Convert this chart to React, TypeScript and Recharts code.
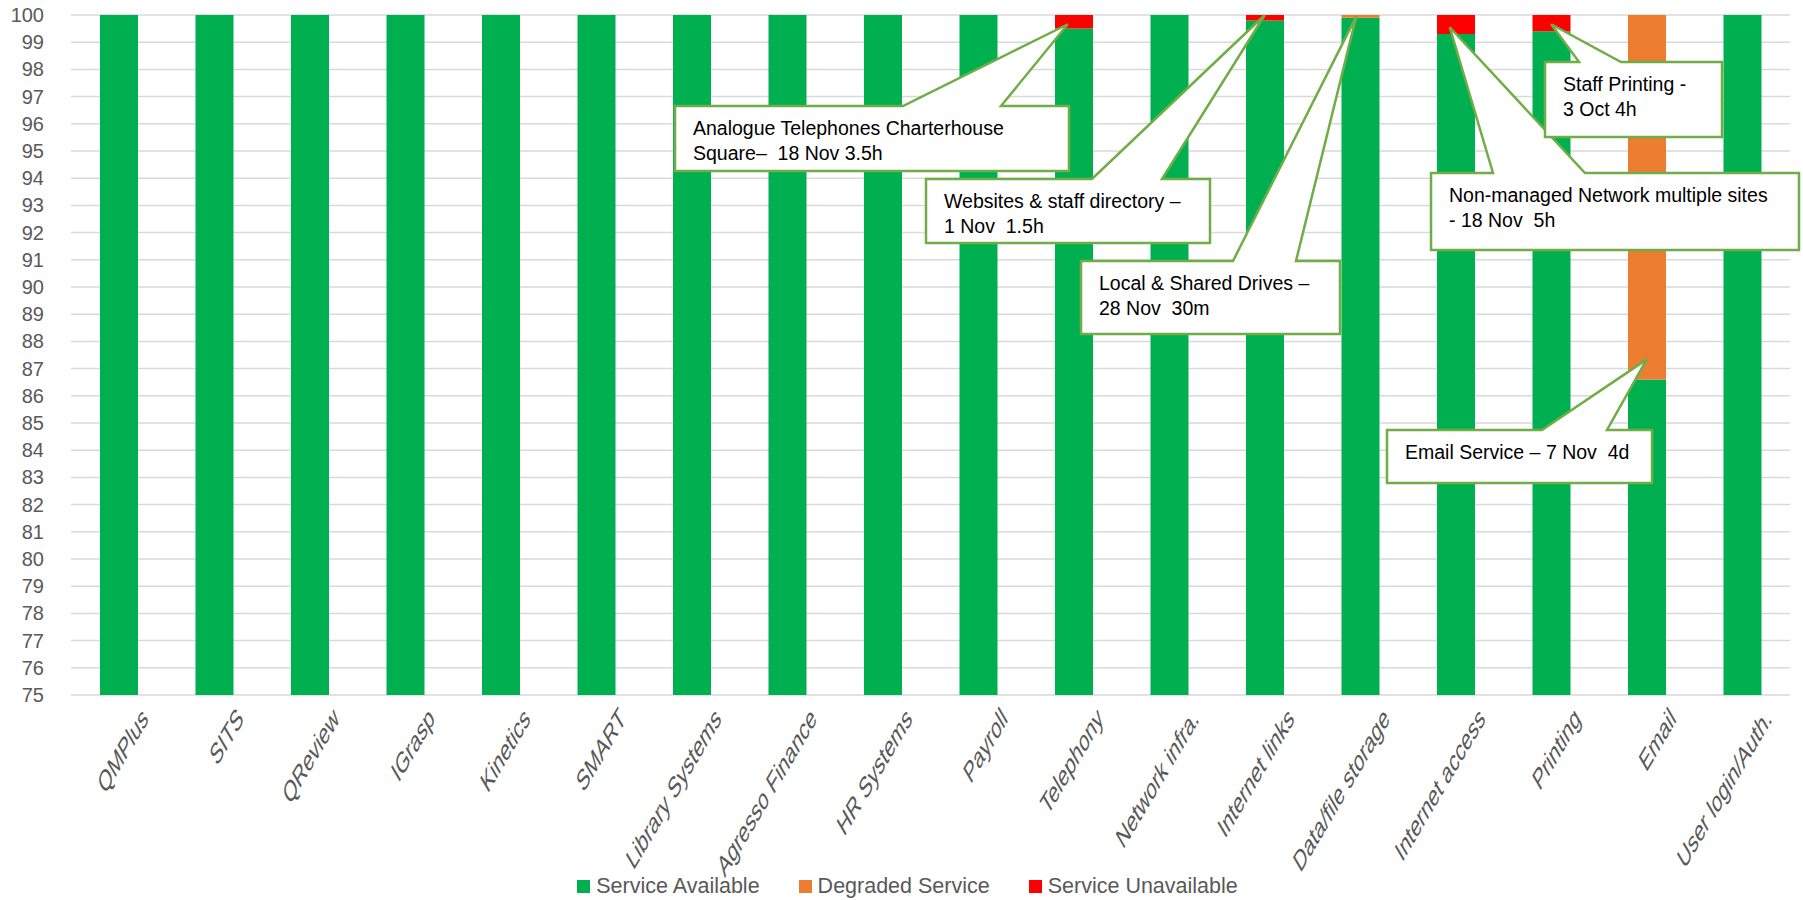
import React from 'react';
import {
  BarChart,
  Bar,
  XAxis,
  YAxis,
  CartesianGrid,
  Legend,
  ReferenceDot,
} from 'recharts';

const categories = [
  'QMPlus', 'SITS', 'QReview', 'IGrasp', 'Kinetics', 'SMART', 'Library Systems',
  'Agresso Finance', 'HR Systems', 'Payroll', 'Telephony', 'Network infra.',
  'Internet links', 'Data/file storage', 'Internet access', 'Printing', 'Email',
  'User login/Auth.',
];
const available = [100, 100, 100, 100, 100, 100, 100, 100, 100, 100, 99.5, 100, 99.8, 99.9, 99.3, 99.4, 86.6, 100];
const degraded = [0, 0, 0, 0, 0, 0, 0, 0, 0, 0, 0, 0, 0, 0.1, 0, 0, 13.4, 0];
const unavailable = [0, 0, 0, 0, 0, 0, 0, 0, 0, 0, 0.5, 0, 0.2, 0, 0.7, 0.6, 0, 0];
const yTicks = [75, 76, 77, 78, 79, 80, 81, 82, 83, 84, 85, 86, 87, 88, 89, 90, 91, 92, 93, 94, 95, 96, 97, 98, 99, 100];

// callout annotations: which bar they point at, the value of the tip, and the text
const calloutCategories = ['Telephony', 'Internet links', 'Data/file storage', 'Internet access', 'Printing', 'Email'];
const calloutTips = [99.66, 100, 99.95, 99.55, 99.66, 87.34];
const calloutTexts = [
  ['Analogue Telephones Charterhouse', 'Square–  18 Nov 3.5h'],
  ['Websites & staff directory –', '1 Nov  1.5h'],
  ['Local & Shared Drives –', '28 Nov  30m'],
  ['Non-managed Network multiple sites', '- 18 Nov  5h'],
  ['Staff Printing -', '3 Oct 4h'],
  ['Email Service – 7 Nov  4d'],
];
// box placement in pixels (x, y, w, h, pointer base from/to on top edge, tip x nudge)
const calloutBoxes = [
  { x: 675, y: 106, w: 394, h: 65, b0: 903, b1: 1001, dx: -6 },
  { x: 926, y: 179, w: 284, h: 64, b0: 1092, b1: 1162, dx: 0 },
  { x: 1081, y: 261, w: 259, h: 73, b0: 1233, b1: 1296, dx: -4 },
  { x: 1431, y: 173, w: 368, h: 77, b0: 1493, b1: 1585, dx: -6 },
  { x: 1545, y: 62, w: 177, h: 75, b0: 1579, b1: 1621, dx: 0 },
  { x: 1387, y: 430, w: 265, h: 53, b0: 1542, b1: 1607, dx: 0 },
];

const data = categories.map((name, i) => ({
  name,
  available: available[i],
  degraded: degraded[i],
  unavailable: unavailable[i],
}));

const GREEN = '#00B050';
const ORANGE = '#ED7D31';
const RED = '#FF0000';
const FONT = '"Liberation Sans", Arial, sans-serif';

const legendItems = [
  { label: 'Service Available', color: GREEN },
  { label: 'Degraded Service', color: ORANGE },
  { label: 'Service Unavailable', color: RED },
];

const YTick = ({ x, y, payload }: any) => (
  <text x={x - 19} y={y} dy="0.35em" textAnchor="end" fill="#595959" fontSize={20} fontFamily={FONT}>
    {payload.value}
  </text>
);

// labels are slanted steeper than 45deg in the original, so rotate then stretch vertically
const XTick = ({ x, y, payload }: any) => (
  <g transform={`translate(${x + 26},${y + 10}) scale(1,1.7) rotate(-45)`}>
    <text textAnchor="end" dy="0.35em" fill="#595959" fontSize={17.5} fontFamily={FONT}>
      {payload.value}
    </text>
  </g>
);

const makeCallout = (i: number) => (props: any) => {
  const { cx, cy } = props;
  const b = calloutBoxes[i];
  const tx = cx + b.dx;
  const path = `M${b.x},${b.y} L${b.b0},${b.y} L${tx},${cy} L${b.b1},${b.y} L${b.x + b.w},${b.y} L${b.x + b.w},${b.y + b.h} L${b.x},${b.y + b.h} Z`;
  return (
    <g>
      <path d={path} fill="#fff" stroke="#70AD47" strokeWidth={2.5} />
      {calloutTexts[i].map((line, k) => (
        <text
          key={k}
          x={b.x + 18}
          y={b.y + 29 + k * 25}
          fontSize={19.5}
          fontFamily={FONT}
          fill="#000"
          style={{ whiteSpace: 'pre' }}
        >
          {line}
        </text>
      ))}
    </g>
  );
};

const renderLegend = () => (
  <div
    style={{
      display: 'flex',
      justifyContent: 'center',
      alignItems: 'center',
      height: 28,
      paddingLeft: 64,
      fontFamily: FONT,
      fontSize: 21.5,
      color: '#595959',
    }}
  >
    {legendItems.map((it) => (
      <div key={it.label} style={{ display: 'flex', alignItems: 'center', marginRight: 39 }}>
        <span style={{ width: 13, height: 13, background: it.color, marginRight: 6, display: 'inline-block' }} />
        <span>{it.label}</span>
      </div>
    ))}
  </div>
);

export default function App() {
  return (
    <div style={{ position: 'absolute', left: 0, top: 0, background: '#fff' }}>
      <BarChart
        width={1803}
        height={900}
        data={data}
        margin={{ top: 15, right: 13, left: 0, bottom: 0 }}
        barSize={38}
      >
        <CartesianGrid vertical={false} stroke="#D9D9D9" strokeWidth={1.5} />
        <XAxis
          dataKey="name"
          interval={0}
          height={177}
          axisLine={false}
          tickLine={false}
          tick={<XTick />}
        />
        <YAxis
          width={71}
          domain={[75, 100]}
          ticks={yTicks}
          interval={0}
          allowDataOverflow
          axisLine={false}
          tickLine={false}
          tick={<YTick />}
        />
        <Legend verticalAlign="bottom" height={28} content={renderLegend} />
        <Bar dataKey="available" stackId="a" fill={GREEN} isAnimationActive={false} />
        <Bar dataKey="degraded" stackId="a" fill={ORANGE} isAnimationActive={false} />
        <Bar dataKey="unavailable" stackId="a" fill={RED} isAnimationActive={false} />
        {calloutCategories.map((c, i) => (
          <ReferenceDot key={c} x={c} y={calloutTips[i]} shape={makeCallout(i)} ifOverflow="visible" />
        ))}
      </BarChart>
    </div>
  );
}
